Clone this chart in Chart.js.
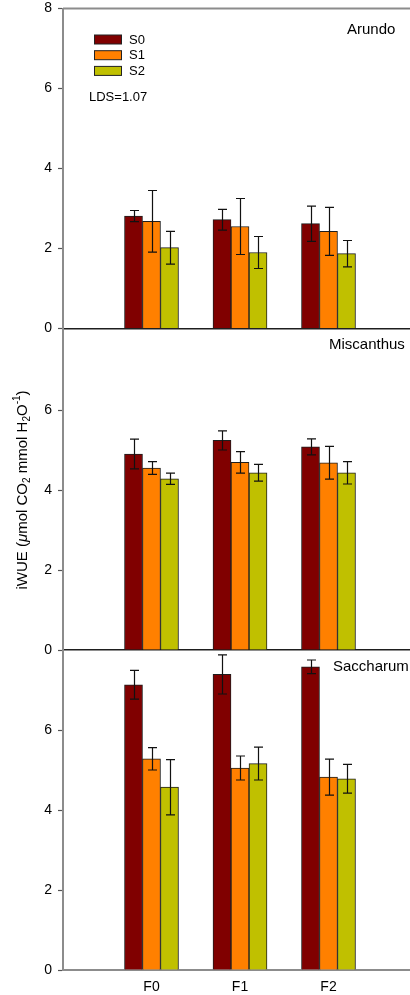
<!DOCTYPE html>
<html>
<head>
<meta charset="utf-8">
<script src="https://cdn.jsdelivr.net/npm/chart.js@4.4.1/dist/chart.umd.min.js"></script>
<style>
  html, body { margin: 0; padding: 0; background: #fff; width: 410px; height: 995px; overflow: hidden; }
  canvas { position: absolute; left: 0; top: 0; }
</style>
</head>
<body>
<canvas id="c1" width="420" height="995"></canvas>
<canvas id="c2" width="420" height="995"></canvas>
<canvas id="c3" width="420" height="995"></canvas>
<script>
// Fertilisation levels (x) and salinity levels (series)
const categories = ['F0', 'F1', 'F2'];
const seriesNames = ['S0', 'S1', 'S2'];
const seriesColors = ['#800000', '#FF8000', '#C0C000'];
const yTicks = [0, 2, 4, 6, 8];

// iWUE means, one row per salinity level, one value per fertilisation level
const arundoS0 = [2.81, 2.72, 2.62];
const arundoS1 = [2.68, 2.55, 2.43];
const arundoS2 = [2.02, 1.90, 1.87];
const arundoErrS0 = [0.14, 0.26, 0.44];
const arundoErrS1 = [0.77, 0.70, 0.60];
const arundoErrS2 = [0.41, 0.40, 0.33];

const miscanthusS0 = [4.90, 5.24, 5.08];
const miscanthusS1 = [4.55, 4.69, 4.68];
const miscanthusS2 = [4.28, 4.43, 4.43];
const miscanthusErrS0 = [0.37, 0.24, 0.20];
const miscanthusErrS1 = [0.16, 0.27, 0.41];
const miscanthusErrS2 = [0.14, 0.21, 0.28];

const saccharumS0 = [7.13, 7.39, 7.58];
const saccharumS1 = [5.28, 5.05, 4.82];
const saccharumS2 = [4.57, 5.16, 4.78];
const saccharumErrS0 = [0.36, 0.49, 0.17];
const saccharumErrS1 = [0.28, 0.30, 0.45];
const saccharumErrS2 = [0.69, 0.41, 0.36];

const FONT = "'Liberation Sans', Arial, sans-serif";
const PAGE_H = 995;
const AXIS_LEFT = 63;

// x positions: an empty slot either side so the groups sit at 1, 2, 3 on a 0..4 axis
const xLabels = [''].concat(categories, ['']);
const pad = arr => [null].concat(arr, [null]);

// vertical error bars with caps, drawn on top of each bar
const errorBars = {
  id: 'errorBars',
  afterDatasetsDraw(chart) {
    const ctx = chart.ctx;
    const y = chart.scales.y;
    ctx.save();
    ctx.strokeStyle = '#111';
    ctx.lineWidth = 1.2;
    chart.data.datasets.forEach((ds, i) => {
      const meta = chart.getDatasetMeta(i);
      meta.data.forEach((bar, j) => {
        const v = ds.data[j];
        const e = ds.errors[j];
        if (v == null || e == null) return;
        const x = Math.round(bar.x) + 0.5;
        const yt = y.getPixelForValue(v + e);
        const yb = y.getPixelForValue(v - e);
        ctx.beginPath();
        ctx.moveTo(x, yt); ctx.lineTo(x, yb);
        ctx.moveTo(x - 4.5, yt); ctx.lineTo(x + 4.5, yt);
        ctx.moveTo(x - 4.5, yb); ctx.lineTo(x + 4.5, yb);
        ctx.stroke();
      });
    });
    ctx.restore();
  }
};

// species name, legend, LDS note, frame top, axis title
const decorations = {
  id: 'decorations',
  afterDraw(chart, args, opts) {
    const ctx = chart.ctx;
    const a = chart.chartArea;
    ctx.save();
    ctx.fillStyle = '#000';
    ctx.textBaseline = 'middle';
    ctx.textAlign = 'left';
    ctx.font = '15px ' + FONT;
    ctx.fillText(opts.name, opts.nameX, a.top + opts.nameDy);

    if (opts.frameTop) {
      ctx.strokeStyle = '#8c8c8c';
      ctx.lineWidth = 2;
      ctx.beginPath();
      ctx.moveTo(a.left, a.top);
      ctx.lineTo(chart.width, a.top);
      ctx.stroke();
    }

    if (opts.legend) {
      ctx.font = '13px ' + FONT;
      chart.data.datasets.forEach((ds, i) => {
        const cy = a.top + 31 + i * 15.7;
        ctx.fillStyle = ds.backgroundColor;
        ctx.fillRect(94, cy - 4.5, 28, 9);
        ctx.strokeStyle = '#222';
        ctx.lineWidth = 1;
        ctx.strokeRect(94.5, cy - 4.5, 27, 9);
        ctx.fillStyle = '#000';
        ctx.fillText(ds.label, 129, cy + 0.5);
      });
      ctx.fillText(opts.note, 89, a.top + 88.5);
    }

    if (opts.yTitle) {
      const parts = [
        { t: 'iWUE (', f: '15px ' + FONT, dy: 0 },
        { t: 'μ', f: 'italic 15px ' + FONT, dy: 0 },
        { t: 'mol CO', f: '15px ' + FONT, dy: 0 },
        { t: '2', f: '10px ' + FONT, dy: 4.5 },
        { t: ' mmol H', f: '15px ' + FONT, dy: 0 },
        { t: '2', f: '10px ' + FONT, dy: 4.5 },
        { t: 'O', f: '15px ' + FONT, dy: 0 },
        { t: '-1', f: '10px ' + FONT, dy: -5.5 },
        { t: ')', f: '15px ' + FONT, dy: 0 }
      ];
      let total = 0;
      parts.forEach(p => { ctx.font = p.f; p.w = ctx.measureText(p.t).width; total += p.w; });
      ctx.translate(23, (a.top + a.bottom) / 2);
      ctx.rotate(-Math.PI / 2);
      ctx.fillStyle = '#000';
      let x = -total / 2;
      parts.forEach(p => {
        ctx.font = p.f;
        ctx.fillText(p.t, x, p.dy);
        x += p.w;
      });
    }
    ctx.restore();
  }
};

function makePanel(id, cfg) {
  const datasets = cfg.means.map((m, i) => ({
    label: seriesNames[i],
    data: pad(m),
    errors: pad(cfg.errs[i]),
    backgroundColor: seriesColors[i],
    borderColor: '#1e1e1e',
    borderWidth: 1,
    borderSkipped: 'bottom',
    barThickness: 18
  }));
  return new Chart(document.getElementById(id), {
    type: 'bar',
    data: { labels: xLabels, datasets },
    plugins: [errorBars, decorations],
    options: {
      responsive: false,
      animation: false,
      events: [],
      layout: { padding: { top: cfg.top, bottom: 0, left: 0, right: 3 } },
      plugins: {
        legend: { display: false },
        tooltip: { enabled: false },
        decorations: cfg.deco
      },
      scales: {
        x: {
          type: 'category',
          offset: false,
          grid: { display: false, drawTicks: false },
          border: { display: true, color: cfg.bottomColor, width: cfg.bottomWidth },
          ticks: {
            display: cfg.showX,
            autoSkip: false,
            maxRotation: 0,
            padding: 9,
            color: '#000',
            font: { family: FONT, size: 14 }
          },
          afterFit(s) {
            s.height = PAGE_H - cfg.bottom;
            s.paddingLeft = 0; s.paddingRight = 0;
            s.paddingTop = 0; s.paddingBottom = 0;
          }
        },
        y: {
          min: 0,
          max: 8,
          afterBuildTicks(s) {
            s.ticks = yTicks.filter(v => cfg.showTop || v < 8).map(v => ({ value: v }));
          },
          grid: {
            display: true,
            drawOnChartArea: false,
            drawTicks: true,
            tickLength: 5,
            tickColor: '#555',
            tickWidth: 1.2
          },
          border: { display: true, color: '#8c8c8c', width: 2 },
          ticks: {
            padding: 6,
            color: '#000',
            font: { family: FONT, size: 14 }
          },
          afterFit(s) {
            s.width = AXIS_LEFT;
            s.paddingLeft = 0; s.paddingRight = 0;
            s.paddingTop = 0; s.paddingBottom = 0;
          }
        }
      }
    }
  });
}

makePanel('c1', {
  means: [arundoS0, arundoS1, arundoS2],
  errs: [arundoErrS0, arundoErrS1, arundoErrS2],
  top: 8.5, bottom: 328.5, showTop: true, showX: false,
  bottomColor: '#1e1e1e', bottomWidth: 1.5,
  deco: { name: 'Arundo', nameX: 347, nameDy: 21.5, frameTop: true, legend: true, note: 'LDS=1.07' }
});

makePanel('c2', {
  means: [miscanthusS0, miscanthusS1, miscanthusS2],
  errs: [miscanthusErrS0, miscanthusErrS1, miscanthusErrS2],
  top: 330, bottom: 650, showTop: false, showX: false,
  bottomColor: '#1e1e1e', bottomWidth: 1.5,
  deco: { name: 'Miscanthus', nameX: 329, nameDy: 15, yTitle: true }
});

makePanel('c3', {
  means: [saccharumS0, saccharumS1, saccharumS2],
  errs: [saccharumErrS0, saccharumErrS1, saccharumErrS2],
  top: 650, bottom: 970, showTop: false, showX: true,
  bottomColor: '#8c8c8c', bottomWidth: 2,
  deco: { name: 'Saccharum', nameX: 333, nameDy: 17 }
});
</script>
</body>
</html>
